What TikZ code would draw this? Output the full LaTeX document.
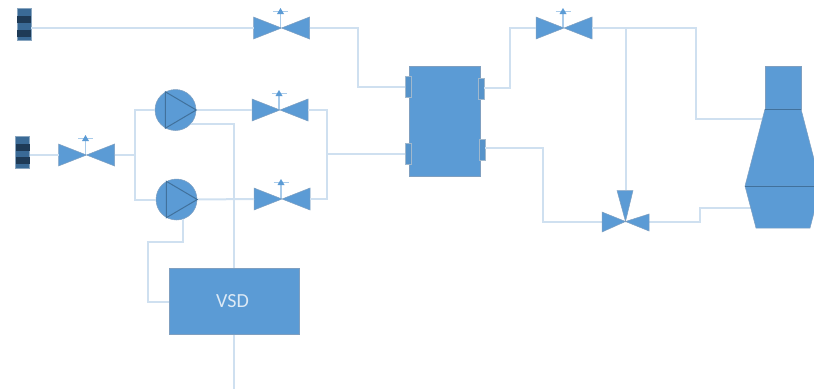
\documentclass[tikz,border=0pt]{standalone}
\usepackage{fontspec}
\setmainfont{Carlito}
\definecolor{eqblue}{HTML}{5B9BD5}
\definecolor{eqedge}{HTML}{7F9FC0}
\definecolor{eqdark}{HTML}{41719C}
\definecolor{pipecol}{HTML}{CFE0F0}
\definecolor{stembar}{HTML}{A9CBEA}
\definecolor{strbody}{HTML}{3A6A96}
\definecolor{strband}{HTML}{1E3A56}
\definecolor{vsdtext}{HTML}{DCE9F5}
\tikzset{
  pipe/.style={draw=pipecol, line width=2pt, line join=miter},
  equip/.style={draw=eqedge, fill=eqblue, line width=0.5pt},
  box/.style={equip, rectangle, inner sep=0pt},
  port/.style={draw=eqdark!50, fill=eqblue!95!black, line width=0.5pt, rectangle, inner sep=0pt, minimum width=6pt, minimum height=21pt},
  pump/.style={equip, circle, inner sep=0pt, minimum size=41pt},
  strainer/.style={rectangle, fill=strbody, draw=strbody!60, line width=0.5pt, inner sep=0pt, minimum width=14pt, minimum height=32pt},
  pics/valve/.style={code={
    \coordinate (-w) at (-28,0);
    \coordinate (-e) at (28,0);
    \draw[stembar, line width=1.2pt] (-1,0) -- (-1,-16);
    \draw[stembar, line width=1pt] (-8.5,-16.5) -- (6.5,-16.5);
    \fill[eqblue] (-4.5,-14) -- (-1,-20) -- (2.5,-14) -- cycle;
    \draw[equip] (-28,-11) -- (28,11) -- (28,-11) -- (-28,11) -- cycle;
  }},
}
\begin{document}
\begin{tikzpicture}[x=1pt,y=-1pt]
  \useasboundingbox (0,0) rectangle (814,389);
  \clip (0,0) rectangle (814,389);

  % Coordinates for the free ends and bends
  \coordinate (junA) at (135,155);
  \coordinate (junB) at (327,153.5);
  \coordinate (teeA) at (626,28);
  \coordinate (bendA) at (358,28);
  \coordinate (bendB) at (510,88.3);
  \coordinate (bendC) at (543,148);
  \coordinate (bendD) at (696,28);
  \coordinate (bendE) at (700,222);
  \coordinate (bendF) at (148,241.5);
  \coordinate (brnIn) at (762,119);
  \coordinate (brnOut) at (752,207.5);
  \coordinate (vsdEnd) at (234,389);
  \coordinate (v3w) at (602,222);
  \coordinate (v3e) at (649,222);
  \coordinate (v3n) at (625,190);

  % Valves
  \pic (vlvA) at (281.5,28) {valve};
  \pic (vlvB) at (86.5,155) {valve};
  \pic (vlvC) at (280,110) {valve};
  \pic (vlvD) at (282,199) {valve};
  \pic (vlvE) at (564,28) {valve};

  % Equipment
  \node[strainer] (strA) at (24,24.5) {};
  \node[strainer] (strB) at (22.5,152) {};
  \node[pump] (pump1) at (175.5,110) {};
  \node[pump] (pump2) at (176.5,199.5) {};
  \node[box, minimum width=130pt, minimum height=66pt, text=vsdtext, font=\fontsize{20}{24}\selectfont] (vsd) at (234,301.7) {\hspace*{-3pt}\raisebox{1.5pt}{VSD}};
  \node[box, minimum width=71pt, minimum height=110pt] (hx) at (444.5,121) {};
  \node[port] (hxLu) at (408,86.7) {};
  \node[port] (hxLl) at (408,153.5) {};
  \node[port] (hxRu) at (481,88.3) {};
  \node[port] (hxRl) at (482,149.8) {};

  % Pipes
  \draw[pipe] (strA.east |- vlvA-w) -- (vlvA-w);
  \draw[pipe] (strB.east |- vlvB-w) -- (vlvB-w);
  \draw[pipe] (vlvB-e) -- (junA);
  \draw[pipe] (pump1.west) -| (junA) |- (pump2.west);
  \draw[pipe] (pump1.east) -- (vlvC-w);
  \draw[pipe] (pump2.east) -- (vlvD-w);
  \draw[pipe] (vlvC-e) -| (junB) |- (vlvD-e);
  \draw[pipe] (junB) -- (hxLl.west);
  \draw[pipe] (vlvA-e) -- (bendA) |- (hxLu.west);
  \draw[pipe] (hxRu.east) -- (bendB) |- (vlvE-w);
  \draw[pipe] (vlvE-e) -- (teeA);
  \draw[pipe] (teeA) -- (bendD) |- (brnIn);
  \draw[pipe] (teeA) -- (teeA |- v3n);
  \draw[pipe] (hxRl.east |- bendC) -- (bendC) |- (v3w);
  \draw[pipe] (v3e) -- (bendE) |- (brnOut);
  \draw[pipe] (pump1.-41) -| (vsd.north);
  \draw[pipe] (vsd.south) -- (vsdEnd);
  \draw[pipe] (pump2.-73) |- (bendF) |- (vsd.west);

  % Pump triangles
  \foreach \p in {pump1,pump2} {
    \draw[eqdark, line width=1pt] (\p.119) -- (\p.east) -- (\p.-119) -- cycle;
  }

  % Strainer bands
  \foreach \s in {strA,strB} {
    \fill[strband] ([shift={(-7,-8.5)}]\s.center) rectangle ([shift={(7,-1.5)}]\s.center);
    \fill[strband] ([shift={(-7,5)}]\s.center) rectangle ([shift={(7,12)}]\s.center);
  }

  % Three way valve
  \coordinate (v3c) at (625.5,221.5);
  \draw[equip] (v3w) ++(0,-10) -- (v3c) -- (602,232) -- cycle;
  \draw[equip] (649,214) -- (v3c) -- (649,231) -- cycle;
  \draw[equip] (617,190.5) -- (v3c) -- (633,190.5) -- cycle;

  % Burner
  \draw[equip] (765,66) rectangle (801,109);
  \draw[equip] (765,109) -- (801,109) -- (821,186) -- (745,186) -- cycle;
  \draw[equip] (745,186) -- (756,228) -- (810,228) -- (821,186);
  \draw[eqdark, line width=1pt] (765,109) -- (801,109);
  \draw[eqdark, line width=1pt] (745,186) -- (821,186);
\end{tikzpicture}
\end{document}
